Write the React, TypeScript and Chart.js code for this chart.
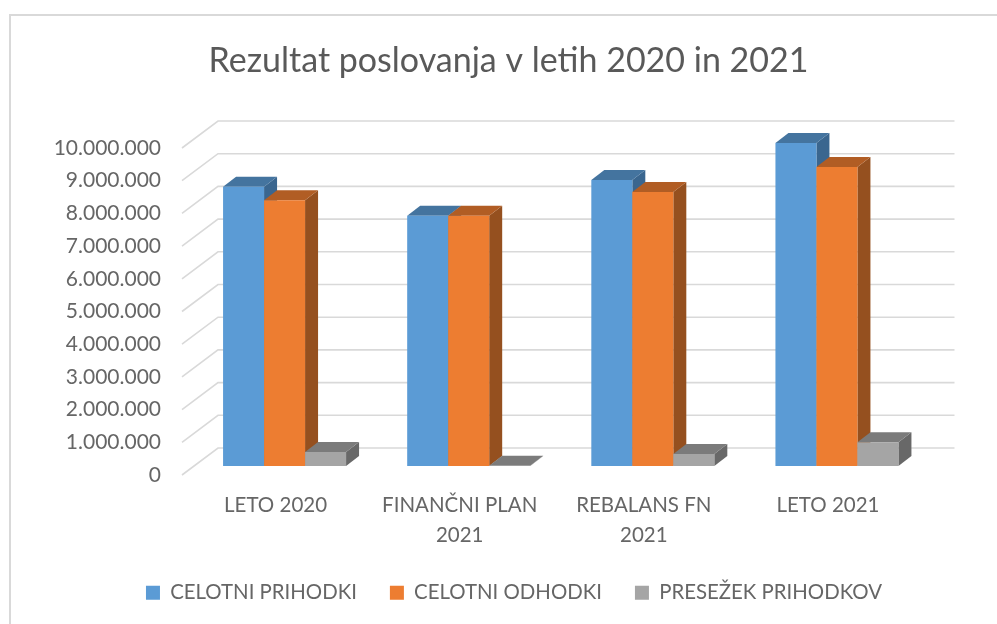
import React, { useEffect, useRef } from "react";
import { Chart, registerables } from "chart.js";

Chart.register(...registerables);

const categories = [["LETO 2020"], ["FINANČNI PLAN", "2021"], ["REBALANS FN", "2021"], ["LETO 2021"]];
const prihodki = [8540000, 7650000, 8750000, 9880000];
const odhodki = [8130000, 7650000, 8380000, 9140000];
const presezek = [430000, 10000, 370000, 730000];
const seriesNames = ["CELOTNI PRIHODKI", "CELOTNI ODHODKI", "PRESEŽEK PRIHODKOV"];
const frontColors = ["#5b9bd5", "#ed7d31", "#a5a5a5"];
const topColors = ["#44749f", "#b15d24", "#7b7b7b"];
const sideColors = ["#3a668f", "#95501f", "#686868"];

const GRID = "#d9d9d9";
const FONT = "Lato, 'Open Sans', sans-serif";

const depth3d = {
  id: "depth3d",
  beforeDraw(chart: any) {
    const lg = chart.legend;
    if (lg && !lg.$shifted) {
      lg.left += 5.5;
      lg.right += 5.5;
      lg.top -= 11;
      lg.bottom -= 11;
      lg.$shifted = true;
    }
  },
  beforeDatasetsDraw(chart: any) {
    const { ctx, chartArea: a, scales } = chart;
    const y = scales.y;
    ctx.save();
    ctx.strokeStyle = GRID;
    ctx.lineWidth = 1.6;
    for (const t of y.ticks) {
      const p = y.getPixelForValue(t.value);
      ctx.beginPath();
      ctx.moveTo(a.left - 10.5, p + 9);
      ctx.lineTo(a.left + 25.5, p - 18);
      ctx.lineTo(a.right + 25.5, p - 18);
      ctx.stroke();
    }
    const dx = 13;
    const dy = 10;
    const count = chart.data.labels.length;
    for (let i = 0; i < count; i++) {
      chart.data.datasets.forEach((_: any, d: number) => {
        const bar = chart.getDatasetMeta(d).data[i];
        const { x, y: top, base, width } = bar.getProps(["x", "y", "base", "width"], true);
        const l = x - width / 2;
        const r = x + width / 2;
        ctx.fillStyle = sideColors[d];
        ctx.beginPath();
        ctx.moveTo(r, base);
        ctx.lineTo(r + dx, base - dy);
        ctx.lineTo(r + dx, top - dy);
        ctx.lineTo(r, top);
        ctx.closePath();
        ctx.fill();
        ctx.fillStyle = topColors[d];
        ctx.beginPath();
        ctx.moveTo(l, top);
        ctx.lineTo(l + dx, top - dy);
        ctx.lineTo(r + dx, top - dy);
        ctx.lineTo(r, top);
        ctx.closePath();
        ctx.fill();
        bar.draw(ctx, a);
      });
    }
    ctx.restore();
    return false;
  },
};

export default function App() {
  const ref = useRef<HTMLCanvasElement>(null);
  useEffect(() => {
    const chart = new Chart(ref.current as HTMLCanvasElement, {
      type: "bar",
      data: {
        labels: categories as any,
        datasets: [prihodki, odhodki, presezek].map((data, i) => ({
          label: seriesNames[i],
          data,
          backgroundColor: frontColors[i],
          borderWidth: 0,
          categoryPercentage: 0.668,
          barPercentage: 1,
        })),
      },
      options: {
        responsive: false,
        animation: false,
        layout: { padding: { left: 20, right: 0, top: 0, bottom: 0 } },
        plugins: {
          tooltip: { enabled: false },
          title: {
            display: true,
            text: "Rezultat poslovanja v letih 2020 in 2021",
            color: "#595959",
            font: { family: FONT, size: 34, weight: "normal", lineHeight: 1.2 },
            padding: { top: 40.6, bottom: 57.6 },
          },
          legend: {
            position: "bottom",
            labels: {
              color: "#666666",
              font: { family: FONT, size: 20.4 },
              boxWidth: 14,
              boxHeight: 14,
              padding: 33,
            },
          },
        },
        scales: {
          x: {
            grid: { display: false, drawTicks: false },
            border: { display: false },
            afterFit: (s: any) => { s.height = 94.6; },
            ticks: {
              color: "#666666",
              font: { family: FONT, size: 20.5, lineHeight: 1.46 },
              padding: 24,
              labelOffset: -9,
              autoSkip: false,
              maxRotation: 0,
              minRotation: 0,
            },
          },
          y: {
            min: 0,
            max: 10000000,
            grid: { display: false, drawTicks: false },
            border: { display: false },
            afterFit: (s: any) => { s.width = 172.5; },
            ticks: {
              stepSize: 1000000,
              color: "#666666",
              font: { family: FONT, size: 21 },
              padding: 31.5,
              labelOffset: 9,
              callback: (v: any) => String(v).replace(/\B(?=(\d{3})+$)/g, "."),
            },
          },
          yRight: {
            position: "right",
            min: 0,
            max: 10000000,
            grid: { display: false, drawTicks: false },
            border: { display: false },
            ticks: { display: false },
            afterFit: (s: any) => { s.width = 68; },
          },
        },
      } as any,
      plugins: [depth3d],
    });
    return () => chart.destroy();
  }, []);
  return (
    <div style={{ position: "absolute", left: 0, top: 0, width: 997, height: 624, background: "#fff" }}>
      <canvas ref={ref} width={997} height={624} style={{ display: "block" }} />
      <div
        style={{
          position: "absolute",
          left: 9,
          top: 14,
          width: 988,
          height: 610,
          boxSizing: "border-box",
          borderLeft: "2px solid #d9d9d9",
          borderTop: "2px solid #d9d9d9",
          pointerEvents: "none",
        }}
      />
    </div>
  );
}
